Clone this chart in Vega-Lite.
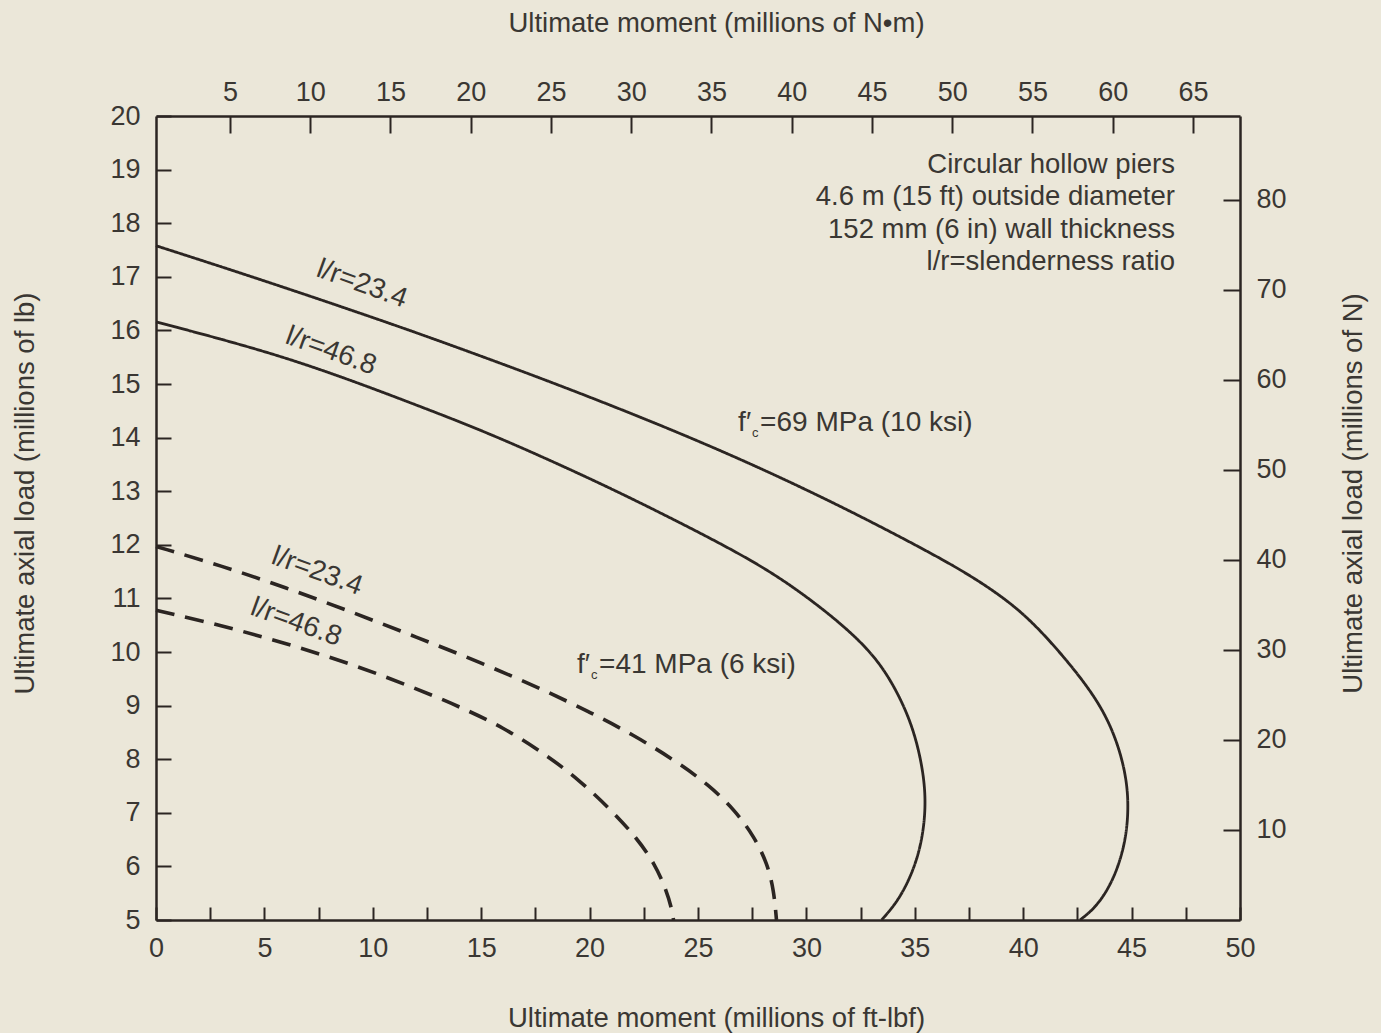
{
  "$schema": "https://vega.github.io/schema/vega-lite/v6.json",
  "width": 1084,
  "height": 804,
  "autosize": {"type": "none"},
  "padding": {"left": 156, "top": 116, "right": 141, "bottom": 113},
  "background": "#ebe7d9",
  "config": {
    "view": {"stroke": null},
    "font": "Liberation Sans",
    "axis": {
      "grid": false,
      "domainColor": "#2b2522",
      "domainWidth": 2.5,
      "tickColor": "#2b2522",
      "tickWidth": 2,
      "labelColor": "#3a3733",
      "titleColor": "#3a3733",
      "labelFont": "Liberation Sans",
      "titleFont": "Liberation Sans",
      "labelFontSize": 27,
      "titleFontSize": 27.5,
      "titleFontWeight": "normal",
      "labelFlush": false,
      "labelOverlap": false
    }
  },
  "datasets": {
    "curves": [
      {"series": "69 MPa, l/r=23.4", "fc": "69 MPa", "M": 0, "P": 17.58},
      {"series": "69 MPa, l/r=23.4", "fc": "69 MPa", "M": 3, "P": 17.19},
      {"series": "69 MPa, l/r=23.4", "fc": "69 MPa", "M": 6, "P": 16.79},
      {"series": "69 MPa, l/r=23.4", "fc": "69 MPa", "M": 9, "P": 16.38},
      {"series": "69 MPa, l/r=23.4", "fc": "69 MPa", "M": 12, "P": 15.96},
      {"series": "69 MPa, l/r=23.4", "fc": "69 MPa", "M": 15, "P": 15.52},
      {"series": "69 MPa, l/r=23.4", "fc": "69 MPa", "M": 18, "P": 15.07},
      {"series": "69 MPa, l/r=23.4", "fc": "69 MPa", "M": 21, "P": 14.6},
      {"series": "69 MPa, l/r=23.4", "fc": "69 MPa", "M": 24, "P": 14.11},
      {"series": "69 MPa, l/r=23.4", "fc": "69 MPa", "M": 27, "P": 13.59},
      {"series": "69 MPa, l/r=23.4", "fc": "69 MPa", "M": 30, "P": 13.03},
      {"series": "69 MPa, l/r=23.4", "fc": "69 MPa", "M": 33, "P": 12.43},
      {"series": "69 MPa, l/r=23.4", "fc": "69 MPa", "M": 36, "P": 11.79},
      {"series": "69 MPa, l/r=23.4", "fc": "69 MPa", "M": 37.5, "P": 11.44},
      {"series": "69 MPa, l/r=23.4", "fc": "69 MPa", "M": 38.9, "P": 11.07},
      {"series": "69 MPa, l/r=23.4", "fc": "69 MPa", "M": 40.3, "P": 10.62},
      {"series": "69 MPa, l/r=23.4", "fc": "69 MPa", "M": 42.0, "P": 9.86},
      {"series": "69 MPa, l/r=23.4", "fc": "69 MPa", "M": 43.5, "P": 9.07},
      {"series": "69 MPa, l/r=23.4", "fc": "69 MPa", "M": 44.3, "P": 8.38},
      {"series": "69 MPa, l/r=23.4", "fc": "69 MPa", "M": 44.75, "P": 7.7},
      {"series": "69 MPa, l/r=23.4", "fc": "69 MPa", "M": 44.87, "P": 7.1},
      {"series": "69 MPa, l/r=23.4", "fc": "69 MPa", "M": 44.72, "P": 6.43},
      {"series": "69 MPa, l/r=23.4", "fc": "69 MPa", "M": 44.18, "P": 5.75},
      {"series": "69 MPa, l/r=23.4", "fc": "69 MPa", "M": 43.4, "P": 5.25},
      {"series": "69 MPa, l/r=23.4", "fc": "69 MPa", "M": 42.62, "P": 5.0},
      {"series": "69 MPa, l/r=46.8", "fc": "69 MPa", "M": 0, "P": 16.16},
      {"series": "69 MPa, l/r=46.8", "fc": "69 MPa", "M": 3, "P": 15.84},
      {"series": "69 MPa, l/r=46.8", "fc": "69 MPa", "M": 6, "P": 15.49},
      {"series": "69 MPa, l/r=46.8", "fc": "69 MPa", "M": 9, "P": 15.07},
      {"series": "69 MPa, l/r=46.8", "fc": "69 MPa", "M": 12, "P": 14.61},
      {"series": "69 MPa, l/r=46.8", "fc": "69 MPa", "M": 15, "P": 14.14},
      {"series": "69 MPa, l/r=46.8", "fc": "69 MPa", "M": 18, "P": 13.61},
      {"series": "69 MPa, l/r=46.8", "fc": "69 MPa", "M": 21, "P": 13.05},
      {"series": "69 MPa, l/r=46.8", "fc": "69 MPa", "M": 24, "P": 12.45},
      {"series": "69 MPa, l/r=46.8", "fc": "69 MPa", "M": 27, "P": 11.82},
      {"series": "69 MPa, l/r=46.8", "fc": "69 MPa", "M": 29, "P": 11.33},
      {"series": "69 MPa, l/r=46.8", "fc": "69 MPa", "M": 31, "P": 10.73},
      {"series": "69 MPa, l/r=46.8", "fc": "69 MPa", "M": 32.5, "P": 10.2},
      {"series": "69 MPa, l/r=46.8", "fc": "69 MPa", "M": 33.5, "P": 9.73},
      {"series": "69 MPa, l/r=46.8", "fc": "69 MPa", "M": 34.3, "P": 9.17},
      {"series": "69 MPa, l/r=46.8", "fc": "69 MPa", "M": 34.9, "P": 8.6},
      {"series": "69 MPa, l/r=46.8", "fc": "69 MPa", "M": 35.3, "P": 7.97},
      {"series": "69 MPa, l/r=46.8", "fc": "69 MPa", "M": 35.5, "P": 7.37},
      {"series": "69 MPa, l/r=46.8", "fc": "69 MPa", "M": 35.45, "P": 6.8},
      {"series": "69 MPa, l/r=46.8", "fc": "69 MPa", "M": 35.2, "P": 6.25},
      {"series": "69 MPa, l/r=46.8", "fc": "69 MPa", "M": 34.75, "P": 5.75},
      {"series": "69 MPa, l/r=46.8", "fc": "69 MPa", "M": 34.16, "P": 5.32},
      {"series": "69 MPa, l/r=46.8", "fc": "69 MPa", "M": 33.47, "P": 5.0},
      {"series": "41 MPa, l/r=23.4", "fc": "41 MPa", "M": 0, "P": 11.97},
      {"series": "41 MPa, l/r=23.4", "fc": "41 MPa", "M": 3, "P": 11.61},
      {"series": "41 MPa, l/r=23.4", "fc": "41 MPa", "M": 6, "P": 11.2},
      {"series": "41 MPa, l/r=23.4", "fc": "41 MPa", "M": 9, "P": 10.75},
      {"series": "41 MPa, l/r=23.4", "fc": "41 MPa", "M": 12, "P": 10.28},
      {"series": "41 MPa, l/r=23.4", "fc": "41 MPa", "M": 15, "P": 9.8},
      {"series": "41 MPa, l/r=23.4", "fc": "41 MPa", "M": 18, "P": 9.27},
      {"series": "41 MPa, l/r=23.4", "fc": "41 MPa", "M": 20, "P": 8.88},
      {"series": "41 MPa, l/r=23.4", "fc": "41 MPa", "M": 22, "P": 8.46},
      {"series": "41 MPa, l/r=23.4", "fc": "41 MPa", "M": 24, "P": 7.96},
      {"series": "41 MPa, l/r=23.4", "fc": "41 MPa", "M": 25.5, "P": 7.52},
      {"series": "41 MPa, l/r=23.4", "fc": "41 MPa", "M": 26.7, "P": 7.05},
      {"series": "41 MPa, l/r=23.4", "fc": "41 MPa", "M": 27.6, "P": 6.55},
      {"series": "41 MPa, l/r=23.4", "fc": "41 MPa", "M": 28.2, "P": 6.05},
      {"series": "41 MPa, l/r=23.4", "fc": "41 MPa", "M": 28.5, "P": 5.55},
      {"series": "41 MPa, l/r=23.4", "fc": "41 MPa", "M": 28.62, "P": 5.0},
      {"series": "41 MPa, l/r=46.8", "fc": "41 MPa", "M": 0, "P": 10.78},
      {"series": "41 MPa, l/r=46.8", "fc": "41 MPa", "M": 3, "P": 10.5},
      {"series": "41 MPa, l/r=46.8", "fc": "41 MPa", "M": 6, "P": 10.16},
      {"series": "41 MPa, l/r=46.8", "fc": "41 MPa", "M": 9, "P": 9.78},
      {"series": "41 MPa, l/r=46.8", "fc": "41 MPa", "M": 12, "P": 9.32},
      {"series": "41 MPa, l/r=46.8", "fc": "41 MPa", "M": 14, "P": 8.98},
      {"series": "41 MPa, l/r=46.8", "fc": "41 MPa", "M": 16, "P": 8.6},
      {"series": "41 MPa, l/r=46.8", "fc": "41 MPa", "M": 18, "P": 8.08},
      {"series": "41 MPa, l/r=46.8", "fc": "41 MPa", "M": 19.5, "P": 7.62},
      {"series": "41 MPa, l/r=46.8", "fc": "41 MPa", "M": 21, "P": 7.05},
      {"series": "41 MPa, l/r=46.8", "fc": "41 MPa", "M": 22.2, "P": 6.52},
      {"series": "41 MPa, l/r=46.8", "fc": "41 MPa", "M": 23, "P": 6.05},
      {"series": "41 MPa, l/r=46.8", "fc": "41 MPa", "M": 23.5, "P": 5.6},
      {"series": "41 MPa, l/r=46.8", "fc": "41 MPa", "M": 23.8, "P": 5.2},
      {"series": "41 MPa, l/r=46.8", "fc": "41 MPa", "M": 23.87, "P": 5.0}
    ],
    "curveLabels": [
      {"lab": "l/r=23.4", "M": 9.5, "P": 16.86},
      {"lab": "l/r=46.8", "M": 8.07, "P": 15.61},
      {"lab": "l/r=23.4", "M": 7.43, "P": 11.5},
      {"lab": "l/r=46.8", "M": 6.46, "P": 10.55}
    ],
    "fcLabels": [
      {"lab": "=69 MPa (10 ksi)", "M": 26.85, "P": 14.12},
      {"lab": "=41 MPa (6 ksi)", "M": 19.42, "P": 9.61}
    ],
    "note": [
      {"lines": ["Circular hollow piers", "4.6 m (15 ft) outside diameter", "152 mm (6 in) wall thickness", "l/r=slenderness ratio"], "M": 47.0, "P": 19.09}
    ],
    "secondary": [{"Mn": 0, "Pn": 0}]
  },
  "layer": [
    {
      "encoding": {
        "x": {
          "field": "M", "type": "quantitative",
          "scale": {"domain": [0, 50], "nice": false, "zero": false},
          "axis": {
            "orient": "bottom",
            "values": [0, 2.5, 5, 7.5, 10, 12.5, 15, 17.5, 20, 22.5, 25, 27.5, 30, 32.5, 35, 37.5, 40, 42.5, 45, 47.5, 50],
            "labelExpr": "datum.value % 5 == 0 ? format(datum.value, 'd') : ''",
            "tickSize": -13,
            "labelPadding": 41,
            "labelBaseline": "middle",
            "title": "Ultimate moment (millions of ft-lbf)",
            "titleX": 560,
            "titleY": 106,
            "titleBaseline": "alphabetic",
            "titleAlign": "center"
          }
        },
        "y": {
          "field": "P", "type": "quantitative",
          "scale": {"domain": [5, 20], "nice": false, "zero": false},
          "axis": {
            "orient": "left",
            "values": [5, 6, 7, 8, 9, 10, 11, 12, 13, 14, 15, 16, 17, 18, 19, 20],
            "tickSize": -15,
            "labelPadding": 31,
            "title": "Ultimate axial load (millions of lb)",
            "titleAngle": 270,
            "titleX": -131,
            "titleY": 377,
            "titleBaseline": "middle",
            "titleAlign": "center"
          }
        }
      },
      "layer": [
        {
          "data": {"name": "curves"},
          "mark": {"type": "line", "interpolate": "basis", "color": "#2b2522", "strokeCap": "butt"},
          "encoding": {
            "detail": {"field": "series"},
            "order": {"field": "P", "sort": "descending"},
            "strokeDash": {"field": "fc", "type": "nominal", "scale": {"domain": ["69 MPa", "41 MPa"], "range": [[1, 0], [19, 11]]}, "legend": null},
            "strokeWidth": {"field": "fc", "type": "nominal", "scale": {"domain": ["69 MPa", "41 MPa"], "range": [2.8, 3.6]}, "legend": null}
          }
        },
        {
          "data": {"name": "curveLabels"},
          "mark": {"type": "text", "angle": 20, "align": "center", "baseline": "middle", "fontSize": 28, "color": "#3a3733"},
          "encoding": {"text": {"field": "lab"}}
        },
        {
          "data": {"name": "fcLabels"},
          "mark": {"type": "text", "align": "left", "baseline": "alphabetic", "dx": 22, "fontSize": 28, "color": "#3a3733"},
          "encoding": {"text": {"field": "lab"}}
        },
        {
          "data": {"name": "fcLabels"},
          "mark": {"type": "text", "text": "f′", "align": "left", "baseline": "alphabetic", "dx": 0, "fontSize": 28, "color": "#3a3733"}
        },
        {
          "data": {"name": "fcLabels"},
          "mark": {"type": "text", "text": "c", "align": "left", "baseline": "alphabetic", "dx": 14, "dy": 6, "fontSize": 13, "color": "#3a3733"}
        },
        {
          "data": {"name": "note"},
          "mark": {"type": "text", "align": "right", "baseline": "middle", "lineHeight": 32.4, "fontSize": 27.5, "color": "#3a3733"},
          "encoding": {"text": {"field": "lines"}}
        }
      ]
    },
    {
      "data": {"name": "secondary"},
      "mark": {"type": "point", "opacity": 0},
      "encoding": {
        "x": {
          "field": "Mn", "type": "quantitative",
          "scale": {"domain": [0.39, 67.93], "nice": false, "zero": false},
          "axis": {
            "orient": "top",
            "values": [5, 10, 15, 20, 25, 30, 35, 40, 45, 50, 55, 60, 65],
            "tickSize": -17,
            "labelPadding": 41,
            "labelBaseline": "middle",
            "title": "Ultimate moment (millions of N•m)",
            "titleX": 560,
            "titleY": -85,
            "titleBaseline": "alphabetic",
            "titleAlign": "center"
          }
        },
        "y": {
          "field": "Pn", "type": "quantitative",
          "scale": {"domain": [0, 89.3], "nice": false, "zero": false},
          "axis": {
            "orient": "right",
            "values": [10, 20, 30, 40, 50, 60, 70, 80],
            "tickSize": -17,
            "labelPadding": 33,
            "title": "Ultimate axial load (millions of N)",
            "titleAngle": 270,
            "titleX": 113,
            "titleY": 377,
            "titleBaseline": "middle",
            "titleAlign": "center"
          }
        }
      }
    }
  ],
  "resolve": {"scale": {"x": "independent", "y": "independent"}}
}
